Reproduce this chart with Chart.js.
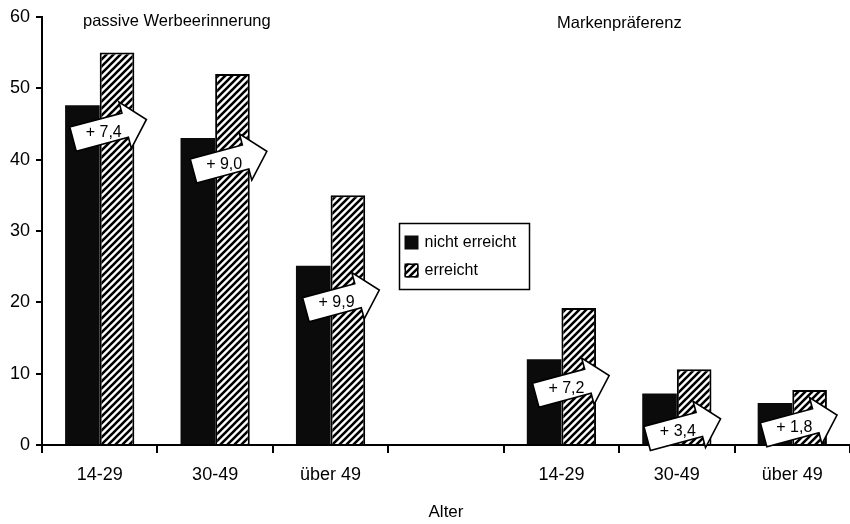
<!DOCTYPE html>
<html>
<head>
<meta charset="utf-8">
<script src="https://cdn.jsdelivr.net/npm/chart.js@4/dist/chart.umd.min.js"></script>
<style>
  html, body { margin: 0; padding: 0; background: #fff; }
  #wrap { width: 850px; height: 524px; }
</style>
</head>
<body>
<div id="wrap"><canvas id="chart" width="850" height="524"></canvas></div>
<script>
// Age groups for the two measures; the empty slot separates the groups
const categories = ['14-29', '30-49', 'über 49', '', '14-29', '30-49', 'über 49'];
// Share in percent: not reached vs. reached by the campaign
const nichtErreicht = [47.6, 43.0, 25.1, null, 12.0, 7.2, 5.9];
const erreicht      = [55.0, 52.0, 35.0, null, 19.2, 10.6, 7.7];
const seriesNames = ['nicht erreicht', 'erreicht'];
const groupTitles = ['passive Werbeerinnerung', 'Markenpräferenz'];
const axisTitle = 'Alter';
const yMin = 0, yMax = 60, yStep = 10;

const FONT = '"Liberation Sans", Arial, sans-serif';

// Diagonal black/white stripe fill
function makeHatch() {
  const s = 7;
  const c = document.createElement('canvas');
  c.width = s; c.height = s;
  const g = c.getContext('2d');
  g.fillStyle = '#fff';
  g.fillRect(0, 0, s, s);
  g.strokeStyle = '#000';
  g.lineWidth = 2.6;
  g.beginPath();
  for (const k of [0, s, 2 * s]) {
    g.moveTo(-2, k + 2);
    g.lineTo(k + 2, -2);
  }
  g.stroke();
  return g.createPattern(c, 'repeat');
}
const hatch = makeHatch();

function fmtDiff(v) {
  return '+ ' + v.toFixed(1).replace('.', ',');
}

// Block arrow with the difference between the two bars
function drawArrow(ctx, cx, cy, text) {
  ctx.save();
  ctx.translate(cx, cy);
  ctx.rotate(-15 * Math.PI / 180);
  const L = 38, bh = 12.5, hx = 16, hh = 24;
  ctx.beginPath();
  ctx.moveTo(-L, -bh);
  ctx.lineTo(hx, -bh);
  ctx.lineTo(hx, -hh);
  ctx.lineTo(L, 0);
  ctx.lineTo(hx, hh);
  ctx.lineTo(hx, bh);
  ctx.lineTo(-L, bh);
  ctx.closePath();
  ctx.fillStyle = '#fff';
  ctx.fill();
  ctx.lineWidth = 1.6;
  ctx.strokeStyle = '#000';
  ctx.lineJoin = 'miter';
  ctx.stroke();
  ctx.restore();
  ctx.save();
  ctx.fillStyle = '#000';
  ctx.font = '16px ' + FONT;
  ctx.textAlign = 'center';
  ctx.textBaseline = 'middle';
  ctx.fillText(text, cx - 6, cy + 3);
  ctx.restore();
}

const overlay = {
  id: 'overlay',
  afterDatasetsDraw(chart, args, opts) {
    const ctx = chart.ctx;
    const xs = chart.scales.x, ys = chart.scales.y;
    const a = chart.data.datasets[0].data, b = chart.data.datasets[1].data;
    a.forEach((v, i) => {
      if (v == null || b[i] == null) return;
      const cx = xs.getPixelForValue(i) + opts.arrowDx[i];
      const cy = ys.getPixelForValue(v) + opts.arrowDy[i];
      drawArrow(ctx, cx, cy, fmtDiff(b[i] - v));
    });
  },
  afterDraw(chart, args, opts) {
    const ctx = chart.ctx;
    const area = chart.chartArea;
    ctx.save();
    // group headings
    ctx.fillStyle = '#000';
    ctx.font = '16.5px ' + FONT;
    ctx.textAlign = 'left';
    ctx.textBaseline = 'alphabetic';
    opts.titles.forEach(t => ctx.fillText(t.text, area.left + t.dx, area.top + t.dy));

    // legend box
    const L = opts.legend;
    ctx.lineWidth = 1.5;
    ctx.strokeStyle = '#000';
    ctx.strokeRect(L.x, L.y, L.w, L.h);
    ctx.font = '16px ' + FONT;
    ctx.textBaseline = 'middle';
    chart.data.datasets.forEach((ds, i) => {
      const ry = L.y + 19 + i * 28;
      ctx.fillStyle = ds.backgroundColor;
      ctx.fillRect(L.x + 5, ry - 7, 14, 14);
      if (ds.borderWidth) {
        ctx.lineWidth = 1.5;
        ctx.strokeRect(L.x + 5.75, ry - 6.25, 12.5, 12.5);
      }
      ctx.fillStyle = '#000';
      ctx.fillText(ds.label, L.x + 25, ry);
    });
    ctx.restore();
  }
};

new Chart(document.getElementById('chart'), {
  type: 'bar',
  data: {
    labels: categories,
    datasets: [
      {
        label: seriesNames[0],
        data: nichtErreicht,
        backgroundColor: '#0b0b0b',
        borderWidth: 0
      },
      {
        label: seriesNames[1],
        data: erreicht,
        backgroundColor: hatch,
        borderColor: '#000',
        borderWidth: 2
      }
    ]
  },
  options: {
    responsive: false,
    animation: false,
    layout: { padding: { top: 16, right: 0, left: 0, bottom: 0 } },
    datasets: { bar: { categoryPercentage: 0.6, barPercentage: 1.0 } },
    plugins: {
      legend: { display: false },
      tooltip: { enabled: false },
      overlay: {
        arrowDx: [10, 15, 12, 0, 11, 7, 8],
        arrowDy: [24, 23, 34, 0, 26, 35, 22],
        titles: [
          { text: groupTitles[0], dx: 41, dy: 9 },
          { text: groupTitles[1], dx: 515, dy: 11 }
        ],
        legend: { x: 399.5, y: 223.5, w: 130, h: 66 }
      }
    },
    scales: {
      x: {
        type: 'category',
        grid: {
          display: true, drawOnChartArea: false, drawTicks: true,
          tickLength: 8, color: '#000', lineWidth: 2, offset: true
        },
        border: { display: true, color: '#000', width: 2 },
        ticks: { color: '#000', font: { family: FONT, size: 18 }, padding: 11, maxRotation: 0 },
        title: {
          display: true, text: axisTitle, color: '#000',
          font: { family: FONT, size: 17 }, padding: { top: 0, bottom: 1 }
        },
        afterFit(scale) { scale.height = 79; }
      },
      y: {
        min: yMin, max: yMax,
        grid: {
          display: true, drawOnChartArea: false, drawTicks: true,
          tickLength: 6, color: '#000', lineWidth: 2
        },
        border: { display: true, color: '#000', width: 2 },
        ticks: { stepSize: yStep, color: '#000', font: { family: FONT, size: 18 }, padding: 6 },
        afterFit(scale) { scale.width = 42; }
      }
    }
  },
  plugins: [overlay]
});
</script>
</body>
</html>
